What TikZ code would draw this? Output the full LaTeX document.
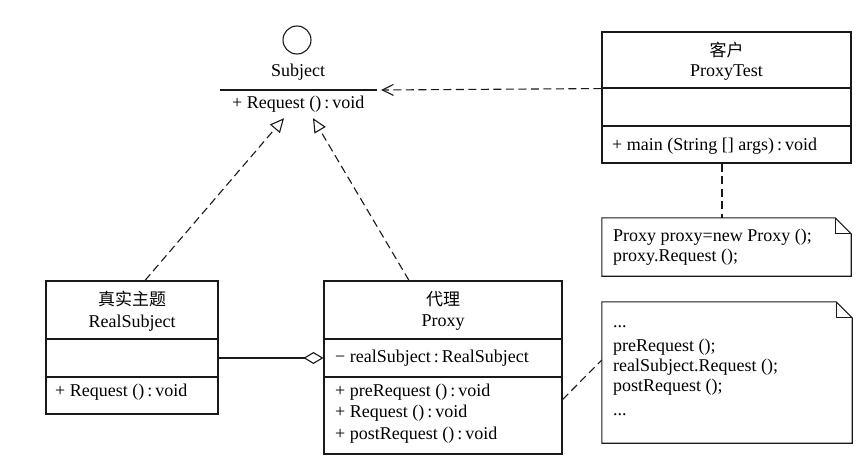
\documentclass[tikz,border=0pt]{standalone}
\usepackage{fontspec}
\setmainfont{Liberation Serif}
\newfontfamily\cjk{Noto Sans CJK SC}
\usetikzlibrary{arrows.meta}
\tikzset{
  umlline/.style={line width=1.1pt, draw=black!90},
  compart/.style={umlline, draw, rectangle, inner sep=0pt, minimum width=#1},
  txt/.style={inner sep=0pt, text height=0.7em, text depth=0.2em, font=\fontsize{18}{21}\selectfont},
  ltxt/.style={txt, anchor=west},
  ctxt/.style={txt, font=\fontsize{17}{21}\selectfont\cjk},
  ghost/.style={inner sep=0pt, rectangle, minimum width=#1},
  dashline/.style={umlline, dash pattern=on 8pt off 4.5pt},
  realize/.style={dashline, -{Triangle[open, length=14pt, width=13pt, line width=1.1pt]}},
  depend/.style={dashline, -{Straight Barb[length=11pt, width=11pt, line width=1.1pt]}},
  aggreg/.style={umlline, -{Diamond[open, length=20pt, width=12pt, line width=1.1pt]}}
}
\newcommand\umlnotebox[1]{%
  \draw[umlline] (#1.north west) -- ([xshift=-16pt]#1.north east)
    -- ([yshift=-16pt]#1.north east) -- (#1.south east) -- (#1.south west) -- cycle;
  \draw[umlline] ([xshift=-16pt]#1.north east) |- ([yshift=-16pt]#1.north east);}
\begin{document}
\begin{tikzpicture}[x=1pt, y=-1pt]
\useasboundingbox (0,0) rectangle (864,460);
\fill[white] (0,0) rectangle (864,460);

% Subject interface
\node[umlline, draw, circle, minimum size=28pt, inner sep=0pt] (subc) at (297,40) {};
\node[ghost=157pt, minimum height=56pt] (subj) at (298.5,90) {};
\node[txt] (subn) at (298,74.5) {Subject};
\draw[umlline] (subj.west) -- (subj.east);
\node[ltxt] (subop) at (232,105.5) {+ Request ()\,:\,void};

% ProxyTest
\node[compart=249pt, minimum height=56pt] (pthead) at (726.5,60) {};
\node[compart=249pt, minimum height=38pt] (ptattr) at (726.5,107) {};
\node[compart=249pt, minimum height=37pt] (ptops) at (726.5,144.5) {};
\node[ctxt] (ptcn) at (726.5,54) {客户};
\node[txt] (ptn) at (726.5,73.5) {ProxyTest};
\node[ltxt] (ptm) at (612,147.5) {+ main (String [] args)\,:\,void};

% note 1
\node[ghost=249pt, minimum height=58pt] (n1) at (726.5,247) {};
\umlnotebox{n1}
\node[ltxt] (n1a) at (613,238.5) {Proxy proxy=new Proxy ();};
\node[ltxt] (n1b) at (613,258.5) {proxy.Request ();};

% RealSubject
\node[compart=172pt, minimum height=58pt] (rshead) at (132,310) {};
\node[compart=172pt, minimum height=38pt] (rsattr) at (132,358) {};
\node[compart=172pt, minimum height=37pt] (rsops) at (132,395.5) {};
\node[ctxt] (rscn) at (132,303) {真实主题};
\node[txt] (rsn) at (132,324.5) {RealSubject};
\node[ltxt] (rsm) at (55,394) {+ Request ()\,:\,void};

% Proxy
\node[compart=238pt, minimum height=58pt] (pxhead) at (443,310) {};
\node[compart=238pt, minimum height=38pt] (pxattr) at (443,358) {};
\node[compart=238pt, minimum height=77pt] (pxops) at (443,415.5) {};
\node[ctxt] (pxcn) at (443,303) {代理};
\node[txt] (pxn) at (443,323.5) {Proxy};
\node[ltxt] (pxa) at (335,359.5) {− realSubject\,:\,RealSubject};
\node[ltxt] (pxm1) at (335,393.5) {+ preRequest ()\,:\,void};
\node[ltxt] (pxm2) at (335,415) {+ Request ()\,:\,void};
\node[ltxt] (pxm3) at (335,436.5) {+ postRequest ()\,:\,void};

% note 2
\node[ghost=250pt, minimum height=141pt] (n2) at (727,372.5) {};
\umlnotebox{n2}
\node[ltxt] (n2a) at (613,324.5) {...};
\node[ltxt] (n2b) at (613,348.5) {preRequest ();};
\node[ltxt] (n2c) at (613,368.5) {realSubject.Request ();};
\node[ltxt] (n2d) at (613,388.5) {postRequest ();};
\node[ltxt] (n2e) at (613,412.5) {...};

% connectors
\draw[depend] (pthead.south west) -- ([xshift=4pt]subj.east);
\draw[realize] ([xshift=13pt]rshead.north) -- ([xshift=-14.5pt]subj.south);
\draw[realize] ([xshift=-34pt]pxhead.north) -- ([xshift=14.5pt]subj.south);
\draw[aggreg] (rsattr.east) -- (pxattr.west);
\draw[dashline] ([xshift=-4.5pt]ptops.south) -- ([xshift=-4.5pt]n1.north);
\draw[dashline] ([yshift=16pt]pxops.east) -- ([yshift=12.5pt]n2.west);
\end{tikzpicture}
\end{document}
